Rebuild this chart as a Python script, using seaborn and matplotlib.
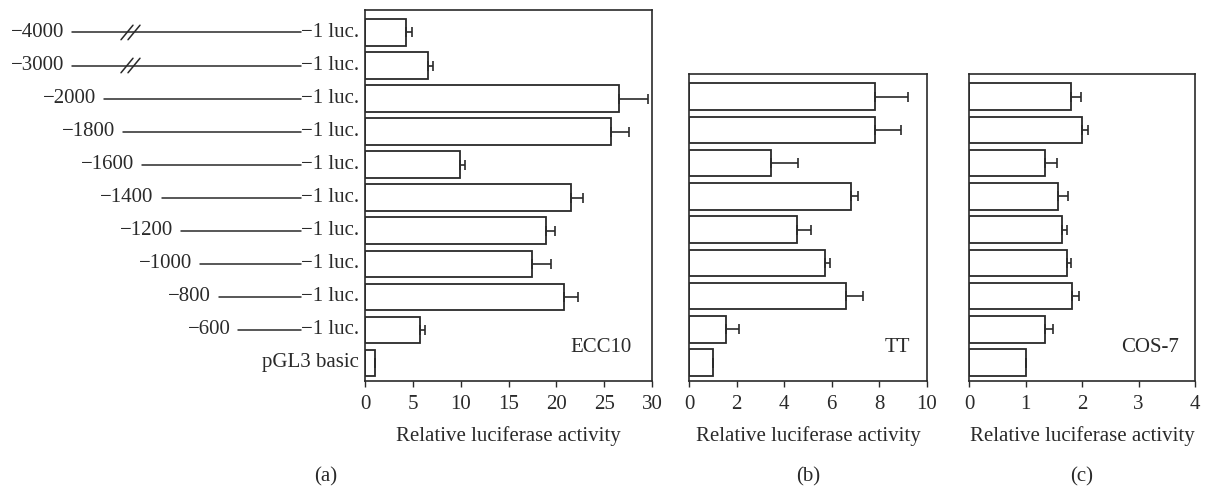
import matplotlib
matplotlib.use("Agg")
import matplotlib.pyplot as plt
import matplotlib.transforms as mtransforms
import numpy as np
import pandas as pd
import seaborn as sns

# constructs (row labels, top to bottom)
constructs = ["\u22124000", "\u22123000", "\u22122000", "\u22121800", "\u22121600", "\u22121400",
              "\u22121200", "\u22121000", "\u2212800", "\u2212600", "pGL3 basic"]
promoter_bp = [4000, 3000, 2000, 1800, 1600, 1400, 1200, 1000, 800, 600, 0]

# ECC10 (all 11 constructs)
ecc10_mean = [4.3, 6.6, 26.6, 25.7, 9.9, 21.5, 18.9, 17.5, 20.8, 5.8, 1.0]
ecc10_err = [0.65, 0.5, 3.0, 1.9, 0.6, 1.3, 1.0, 1.9, 1.5, 0.5, 0.0]

# TT and COS-7 (from -2000 down to pGL3 basic)
tt_mean = [7.8, 7.8, 3.45, 6.8, 4.55, 5.73, 6.6, 1.57, 1.0]
tt_err = [1.4, 1.1, 1.12, 0.3, 0.58, 0.19, 0.7, 0.53, 0.0]
cos7_mean = [1.8, 2.0, 1.35, 1.57, 1.65, 1.73, 1.83, 1.35, 1.0]
cos7_err = [0.18, 0.1, 0.2, 0.19, 0.08, 0.07, 0.11, 0.13, 0.0]

panel_names = ["ECC10", "TT", "COS-7"]
xlims = [30, 10, 4]
xticks = [np.arange(0, 31, 5), np.arange(0, 11, 2), np.arange(0, 5, 1)]

sns.set_style("ticks")
plt.rcParams["font.family"] = ["Liberation Serif", "DejaVu Serif"]
fs = 15
ink = "#2a2a2a"

W, H = 1214, 487
fig = plt.figure(figsize=(W / 100, H / 100), dpi=100)

def px_box(x0, x1, y0, y1):
    return [x0 / W, (H - y1) / H, (x1 - x0) / W, (y1 - y0) / H]

ax_a = fig.add_axes(px_box(365, 652, 10, 381))
ax_b = fig.add_axes(px_box(689, 927, 74, 381))
ax_c = fig.add_axes(px_box(969, 1195, 74, 381))
axes = [ax_a, ax_b, ax_c]

data = [
    pd.DataFrame({"construct": constructs, "mean": ecc10_mean, "err": ecc10_err}),
    pd.DataFrame({"construct": constructs[2:], "mean": tt_mean, "err": tt_err}),
    pd.DataFrame({"construct": constructs[2:], "mean": cos7_mean, "err": cos7_err}),
]

for ax, df, name, xl, xt in zip(axes, data, panel_names, xlims, xticks):
    sns.barplot(data=df, x="mean", y="construct", orient="h", color="white",
                edgecolor=ink, linewidth=1.3, width=0.8, errorbar=None,
                saturation=1, ax=ax)
    centers = [p.get_y() + p.get_height() / 2 for p in ax.patches]
    ax.errorbar(df["mean"], centers, xerr=[np.zeros(len(df)), df["err"]],
                fmt="none", ecolor=ink, elinewidth=1.2, capsize=3.6, capthick=1.2)
    n = len(df)
    ax.set_ylim(n - 1 + 0.55, -0.68)
    ax.set_xlim(0, xl)
    ax.set_xticks(xt)
    ax.set_yticks([])
    ax.set_ylabel("")
    ax.set_xlabel("Relative luciferase activity", fontsize=fs, color=ink, labelpad=9)
    ax.tick_params(axis="x", direction="out", length=4, width=1, colors=ink,
                   labelsize=fs, pad=6)
    for s in ax.spines.values():
        s.set_visible(True)
        s.set_color(ink)
        s.set_linewidth(1.2)
    ax.text(0.93, n - 1 - 0.45, name,
            transform=mtransforms.blended_transform_factory(ax.transAxes, ax.transData),
            ha="right", va="center", fontsize=fs, color=ink)

# promoter diagram to the left of panel (a)
trans = mtransforms.blended_transform_factory(fig.transFigure, ax_a.transData)
rows = [p.get_y() + p.get_height() / 2 for p in ax_a.patches]
for lab, bp, y in zip(constructs, promoter_bp, rows):
    if bp == 0:
        ax_a.text(359 / W, y, lab, transform=trans, ha="right", va="center",
                  fontsize=fs, color=ink, clip_on=False)
        continue
    x0 = 72 if bp > 2000 else 296 - 0.096 * bp
    ax_a.plot([x0 / W, 301 / W], [y, y], transform=trans, color=ink, lw=1.1,
              clip_on=False)
    ax_a.text((x0 - 8) / W, y, lab, transform=trans, ha="right", va="center",
              fontsize=fs, color=ink, clip_on=False)
    ax_a.text(359 / W, y, "\u22121 luc.", transform=trans, ha="right", va="center",
              fontsize=fs, color=ink, clip_on=False)
    if bp > 2000:
        for off in (0, 7):
            ax_a.plot([(121 + off) / W, (133 + off) / W], [y + 0.22, y - 0.22],
                      transform=trans, color=ink, lw=1.1, clip_on=False)

# panel letters
for cx, letter in [(326, "(a)"), (808, "(b)"), (1082, "(c)")]:
    fig.text(cx / W, 1 - 477 / H, letter, ha="center", va="center", fontsize=fs, color=ink)

fig.savefig("out.png", dpi=100)
